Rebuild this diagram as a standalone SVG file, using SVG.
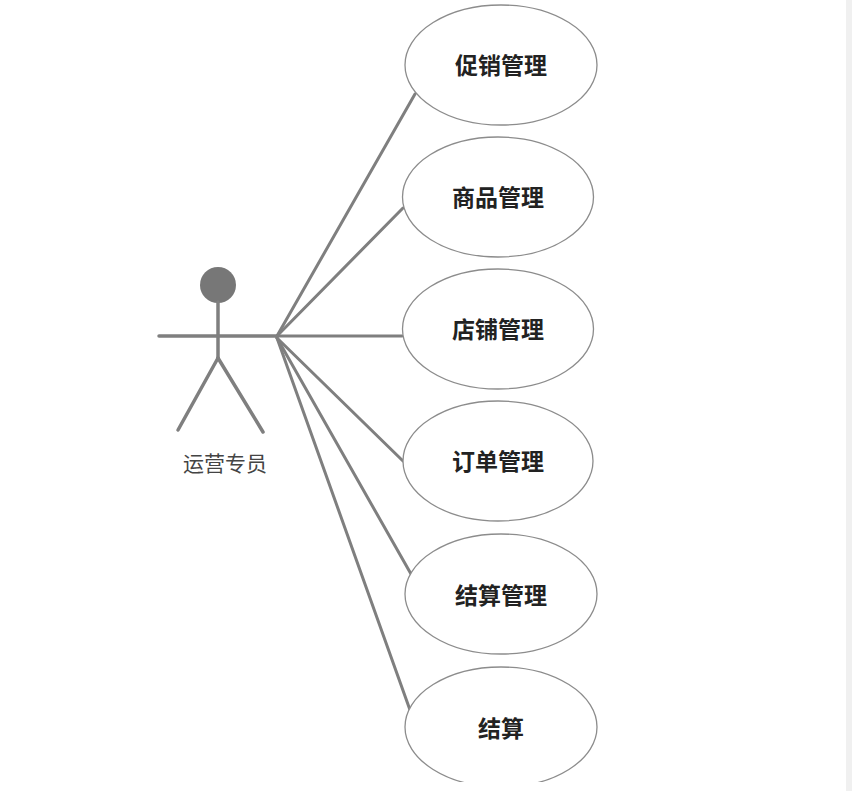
<svg xmlns="http://www.w3.org/2000/svg" width="852" height="791" viewBox="0 0 852 791">
<style>
.uc{fill:#fff;stroke:#8c8c8c;stroke-width:1.3}
.lbl{font-family:"Noto Sans CJK SC","Noto Sans",sans-serif;font-size:23px;font-weight:bold;fill:#222;text-anchor:middle;dominant-baseline:central}
.conn{stroke:#7f7f7f;stroke-width:3;stroke-linecap:round;fill:none}
.limb{stroke:#7f7f7f;stroke-width:3.5;stroke-linecap:round;fill:none}
.alabel{font-family:"Noto Sans CJK SC","Noto Sans",sans-serif;font-size:21px;fill:#444;text-anchor:middle}
</style>
<defs>
<clipPath id="clip"><rect x="0" y="0" width="846" height="782"/></clipPath>
</defs>
<rect x="0" y="0" width="852" height="791" fill="#fff"/>
<rect x="846" y="0" width="6" height="791" fill="#f0f0f0"/>
<g clip-path="url(#clip)">
<g id="connectors">
<line class="conn" x1="277" y1="336" x2="415" y2="94"/>
<line class="conn" x1="277" y1="336" x2="403" y2="208"/>
<line class="conn" x1="277" y1="336" x2="402" y2="336"/>
<line class="conn" x1="277" y1="338" x2="403" y2="461"/>
<line class="conn" x1="277" y1="338" x2="411" y2="574"/>
<line class="conn" x1="277" y1="338" x2="410" y2="710"/>
</g>
<g id="actor">
<circle cx="218" cy="285" r="18" fill="#777"/>
<line class="limb" x1="218" y1="302" x2="218" y2="358"/>
<line class="limb" x1="159" y1="336" x2="277" y2="336"/>
<line class="limb" x1="218" y1="358" x2="178" y2="430"/>
<line class="limb" x1="218" y1="358" x2="263" y2="432"/>
<text class="alabel" x="225" y="471">运营专员</text>
</g>
<g id="uc1"><ellipse class="uc" cx="501" cy="65" rx="96" ry="60"/><text class="lbl" x="501" y="64">促销管理</text></g>
<g id="uc2"><ellipse class="uc" cx="498" cy="197" rx="95.5" ry="60"/><text class="lbl" x="498" y="196">商品管理</text></g>
<g id="uc3"><ellipse class="uc" cx="498" cy="329" rx="95.5" ry="60"/><text class="lbl" x="498" y="328">店铺管理</text></g>
<g id="uc4"><ellipse class="uc" cx="498" cy="461" rx="95" ry="60"/><text class="lbl" x="498" y="460">订单管理</text></g>
<g id="uc5"><ellipse class="uc" cx="501" cy="594" rx="96" ry="60"/><text class="lbl" x="501" y="594">结算管理</text></g>
<g id="uc6"><ellipse class="uc" cx="501" cy="727" rx="96" ry="60"/><text class="lbl" x="501" y="727">结算</text></g>
</g>
</svg>
